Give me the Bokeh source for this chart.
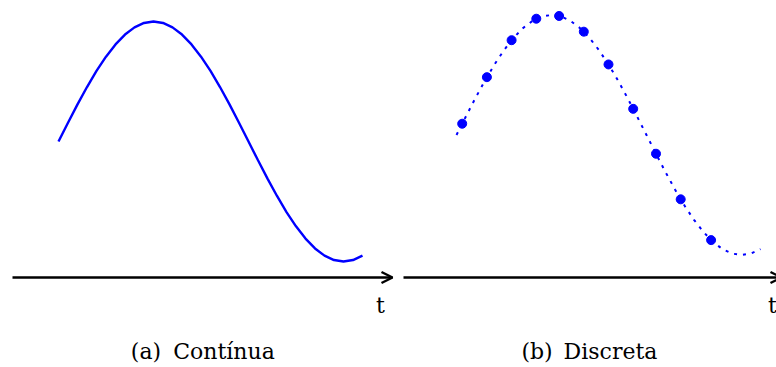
from bokeh.plotting import figure
from bokeh.layouts import row
from bokeh.models import Arrow, OpenHead, Range1d, Label
from bokeh.embed import file_html
from bokeh.resources import INLINE

# Continuous signal (a): time (in units of pi) and amplitude
t_cont = [0.00, 0.05, 0.10, 0.15, 0.20, 0.25, 0.30, 0.35, 0.40, 0.45, 0.50,
          0.55, 0.60, 0.65, 0.70, 0.75, 0.80, 0.85, 0.90, 0.95, 1.00,
          1.05, 1.10, 1.15, 1.20, 1.25, 1.30, 1.35, 1.40, 1.45, 1.50, 1.55, 1.60]
y_cont = [0.000, 0.156, 0.309, 0.454, 0.588, 0.707, 0.809, 0.891, 0.951, 0.988, 1.000,
          0.988, 0.951, 0.891, 0.809, 0.707, 0.588, 0.454, 0.309, 0.156, 0.000,
          -0.156, -0.309, -0.454, -0.588, -0.707, -0.809, -0.891, -0.951, -0.988, -1.000, -0.988, -0.951]

# Discrete signal (b): sample instants and values
t_disc = [0.03, 0.16, 0.29, 0.42, 0.54, 0.67, 0.80, 0.93, 1.05, 1.18, 1.34]
y_disc = [0.094, 0.482, 0.790, 0.969, 0.992, 0.861, 0.588, 0.218, -0.156, -0.536, -0.876]

captions = [("(a)", "Contínua"), ("(b)", "Discreta")]
axis_label = "t"

BLUE = "#0000ff"
FONT = "DejaVu Serif"
H = 367


def label(p, x, y, text, size="22px"):
    p.add_layout(Label(x=x, y=y, text=text, text_font=FONT, text_font_size=size,
                       text_align="center", text_baseline="alphabetic", text_color="black"))


def make_fig(width, x0px, y0px, axis_px, label_px):
    # pixel layout: x_px = x0px + 190*t ; y_px = y0px - 120*y
    sx, sy = 190.0, 120.0
    p = figure(width=width, height=H, output_backend="svg", toolbar_location=None,
               x_range=Range1d(-x0px / sx, (width - x0px) / sx),
               y_range=Range1d((y0px - H) / sy, y0px / sy),
               min_border=0, outline_line_color=None)
    p.axis.visible = False
    p.grid.visible = False
    p.background_fill_color = "white"
    p.border_fill_color = "white"
    fx = lambda px: (px - x0px) / sx
    fy = lambda py: (y0px - py) / sy
    ax_y = fy(axis_px[2])
    p.add_layout(Arrow(end=OpenHead(size=11, line_width=2.4, line_color="black"),
                       x_start=fx(axis_px[0]), y_start=ax_y, x_end=fx(axis_px[1]), y_end=ax_y,
                       line_width=2.4, line_color="black"))
    label(p, fx(label_px[0]), fy(label_px[1]), axis_label)
    return p, fx, fy


CAP_Y = 351
# left panel
p1, fx1, fy1 = make_fig(397, 58, 141, (12, 392, 277), (380, 305))
p1.line(t_cont, y_cont, line_color=BLUE, line_width=2.4)
label(p1, fx1(145.5), fy1(CAP_Y), captions[0][0])
label(p1, fx1(223.5), fy1(CAP_Y), captions[0][1])

# right panel (starts at page x = 397)
p2, fx2, fy2 = make_fig(379, 59, 134.5, (6, 384, 277), (375, 305))
p2.line(t_cont, y_cont, line_color=BLUE, line_width=2, line_dash="3 6")
p2.scatter(t_disc, y_disc, size=9, fill_color=BLUE, line_color=BLUE)
label(p2, fx2(536.5 - 397), fy2(CAP_Y), captions[1][0])
label(p2, fx2(610 - 397), fy2(CAP_Y), captions[1][1])

layout = row(p1, p2)
open("out.html", "w").write(file_html(layout, INLINE))
